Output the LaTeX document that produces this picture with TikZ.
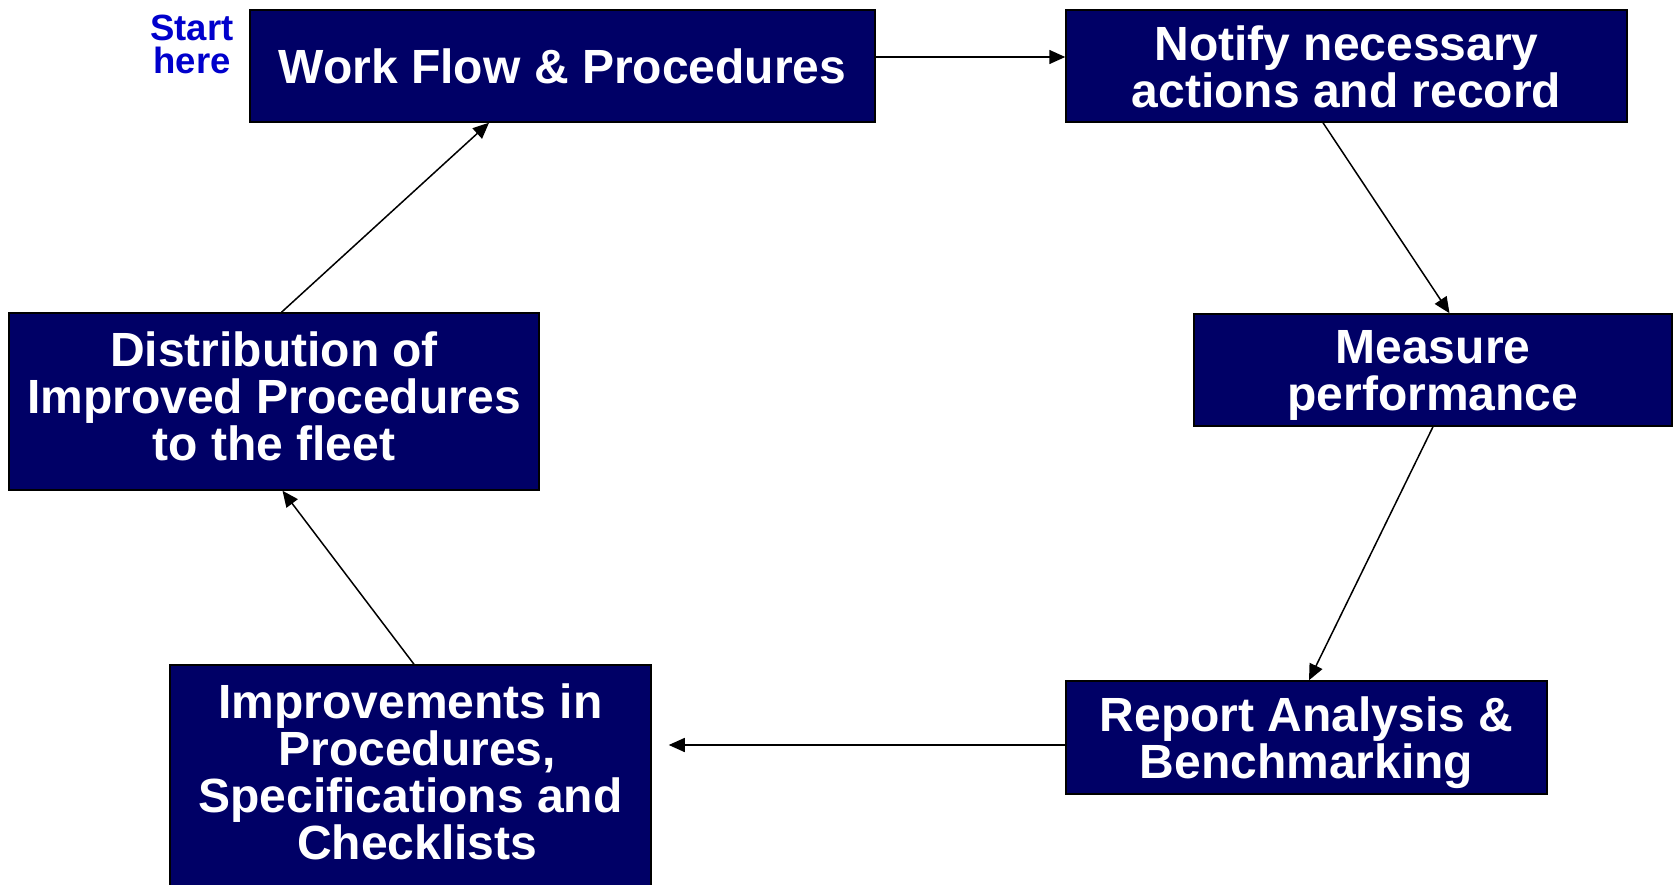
\documentclass[tikz,border=0pt]{standalone}
\usepackage{fontspec}
\setmainfont{Liberation Sans}
\usetikzlibrary{arrows.meta}
\definecolor{boxnavy}{RGB}{0,0,102}
\definecolor{startblue}{RGB}{0,0,204}
\begin{document}
\begin{tikzpicture}[x=1pt,y=-1pt,
  stagebox/.style={draw=black, line width=1.5pt, fill=boxnavy, inner sep=0pt},
  stagetext/.style={text=white, font=\fontsize{48}{47}\selectfont\bfseries, align=center, inner sep=0pt},
  flow/.style={line width=1.5pt, -{Triangle[length=16pt,width=14pt]}}]
\useasboundingbox (0,0) rectangle (1673,885);
\clip (0,0) rectangle (1673,885);

% process boxes (centre, width x height)
\node[stagebox, minimum width=625pt, minimum height=112pt] (work) at (562.5,66) {};
\node[stagebox, minimum width=561pt, minimum height=112pt] (notify) at (1346.5,66) {};
\node[stagebox, minimum width=478pt, minimum height=112pt] (measure) at (1433,370) {};
\node[stagebox, minimum width=481pt, minimum height=113pt] (report) at (1306.5,737.5) {};
\node[stagebox, minimum width=481pt, minimum height=230pt] (improve) at (410.5,780) {};
\node[stagebox, minimum width=530pt, minimum height=177pt] (distrib) at (274,401.5) {};

% box captions
\node[stagetext] (workT) at (work.center) {Work Flow \& Procedures};
\node[stagetext] (notifyT) at ([yshift=-0.5pt]notify.center) {Notify necessary\\actions and record};
\node[stagetext] (measureT) at ([yshift=-5pt]measure.center) {Measure\\performance};
\node[stagetext] (reportT) at ([yshift=-5.5pt]report.center) {Report Analysis \&\\Benchmarking};
\node[stagetext] (improveT) at ([yshift=8pt]improve.center) {Improvements in\\\ Procedures,\\Specifications and\\\ Checklists};
\node[stagetext] (distribT) at ([yshift=5.5pt]distrib.center) {Distribution of\\Improved Procedures\\to the fleet};

% starting marker
\node[text=startblue, font=\fontsize{36.5}{33}\selectfont\bfseries, align=center, inner sep=0pt] (start) at (192,44.5) {Start\\here};

% cycle connectors
\draw[flow] ([yshift=9pt]work.east) -- ([yshift=9pt]notify.west);
\draw[flow] ([xshift=-23.5pt]notify.south) -- ([xshift=16.5pt]measure.north);
\draw[flow] (measure.south) -- ([xshift=2.5pt]report.north);
\draw[flow] ([yshift=-7.5pt]report.west) -- ([xshift=17pt,yshift=-7.5pt]report.west -| improve.east);
\draw[flow] ([xshift=3.5pt]improve.north) -- ([xshift=8.5pt]distrib.south);
\draw[flow] ([xshift=7.5pt]distrib.north) -- ([xshift=-73.5pt]work.south);
\end{tikzpicture}
\end{document}
